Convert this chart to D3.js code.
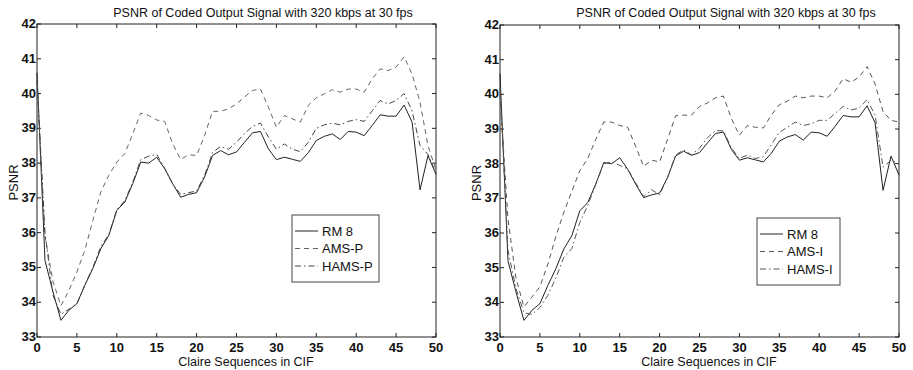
<!DOCTYPE html>
<html>
<head>
<meta charset="utf-8">
<script src="https://cdn.jsdelivr.net/npm/d3@7"></script>
<style>
  html, body { margin: 0; padding: 0; background: #fff; }
  svg { display: block; }
  text { font-family: "Liberation Sans", Arial, sans-serif; fill: #111; }
</style>
</head>
<body>
<svg id="chart" width="913" height="370"></svg>
<script>
// frame index along the sequence
const frames = d3.range(0, 51);
const xTicks = [0, 5, 10, 15, 20, 25, 30, 35, 40, 45, 50];
const yTicks = [33, 34, 35, 36, 37, 38, 39, 40, 41, 42];

const titleText = "PSNR of Coded Output Signal with 320 kbps at 30 fps";
const xLabel = "Claire Sequences in CIF";
const yLabel = "PSNR";

// PSNR values
const rm8 = [40.6, 35.2, 34.3, 33.48, 33.77, 33.96, 34.49, 34.97, 35.54, 35.92,
  36.64, 36.88, 37.41, 38.03, 38.0, 38.17, 37.84, 37.41, 37.02, 37.1,
  37.15, 37.6, 38.22, 38.36, 38.24, 38.32, 38.6, 38.87, 38.91, 38.41,
  38.1, 38.17, 38.11, 38.05, 38.3, 38.65, 38.77, 38.84, 38.68, 38.91,
  38.89, 38.79, 39.08, 39.39, 39.35, 39.35, 39.67, 39.18, 37.23, 38.22, 37.67];

const amsP = [40.3, 35.9, 34.6, 33.9, 34.34, 34.87, 35.5, 36.35, 37.17, 37.65,
  38.03, 38.27, 38.84, 39.44, 39.37, 39.24, 39.2, 38.56, 38.1, 38.24,
  38.22, 38.79, 39.49, 39.49, 39.56, 39.7, 39.9, 40.09, 40.13, 39.61,
  39.03, 39.37, 39.27, 39.18, 39.66, 39.88, 39.99, 40.11, 40.04, 40.13,
  40.13, 40.04, 40.42, 40.71, 40.66, 40.76, 41.06, 40.56, 39.75, 38.5, 37.8];

const hamsP = [40.4, 36.0, 34.2, 33.65, 33.8, 33.95, 34.5, 35.0, 35.6, 35.95,
  36.66, 36.92, 37.45, 38.1, 38.2, 38.25, 37.85, 37.4, 37.1, 37.15,
  37.2, 37.65, 38.3, 38.48, 38.4, 38.6, 38.85, 39.05, 39.15, 38.75,
  38.4, 38.55, 38.4, 38.33, 38.6, 39.0, 39.1, 39.15, 39.1, 39.2,
  39.25, 39.2, 39.5, 39.8, 39.7, 39.8, 40.0, 39.5, 38.5, 38.25, 37.7];

const amsI = [40.0, 36.4, 34.7, 33.87, 34.15, 34.45, 35.1, 35.9, 36.6, 37.2,
  37.8, 38.15, 38.7, 39.2, 39.2, 39.1, 39.05, 38.5, 37.92, 38.1,
  38.05, 38.7, 39.38, 39.4, 39.4, 39.65, 39.75, 39.9, 39.95, 39.3,
  38.82, 39.1, 39.05, 39.03, 39.4, 39.7, 39.8, 39.95, 39.9, 39.95,
  39.95, 39.9, 40.1, 40.45, 40.35, 40.5, 40.8, 40.3, 39.5, 39.25, 39.2];

const hamsI = [40.2, 35.5, 34.4, 33.7, 33.65, 33.85, 34.2, 34.7, 35.3, 35.55,
  36.3, 36.8, 37.4, 38.0, 38.05, 37.95, 37.85, 37.45, 37.05, 37.25,
  37.1, 37.6, 38.25, 38.4, 38.25, 38.45, 38.75, 38.95, 38.95, 38.45,
  38.15, 38.25, 38.15, 38.2, 38.55, 38.9, 39.05, 39.2, 39.1, 39.15,
  39.25, 39.25, 39.45, 39.65, 39.55, 39.6, 39.85, 39.4, 37.9, 38.1, 38.0];

const svg = d3.select("#chart");

function panel(opt) {
  const x = d3.scaleLinear().domain([0, 50]).range([opt.left, opt.right]);
  const y = d3.scaleLinear().domain([33, 42]).range([opt.bottom, opt.top]);
  const g = svg.append("g");

  // plot box
  g.append("rect")
    .attr("x", opt.left).attr("y", opt.top)
    .attr("width", opt.right - opt.left).attr("height", opt.bottom - opt.top)
    .attr("fill", "none").attr("stroke", "#222").attr("stroke-width", 1);

  // inward ticks on all four sides, matlab style
  const tl = 4;
  g.append("g").selectAll("line").data(xTicks).join("line")
    .attr("x1", d => x(d)).attr("x2", d => x(d))
    .attr("y1", opt.bottom).attr("y2", opt.bottom - tl)
    .attr("stroke", "#222");
  g.append("g").selectAll("line").data(xTicks).join("line")
    .attr("x1", d => x(d)).attr("x2", d => x(d))
    .attr("y1", opt.top).attr("y2", opt.top + tl)
    .attr("stroke", "#222");
  g.append("g").selectAll("line").data(yTicks).join("line")
    .attr("x1", opt.left).attr("x2", opt.left + tl)
    .attr("y1", d => y(d)).attr("y2", d => y(d))
    .attr("stroke", "#222");
  g.append("g").selectAll("line").data(yTicks).join("line")
    .attr("x1", opt.right).attr("x2", opt.right - tl)
    .attr("y1", d => y(d)).attr("y2", d => y(d))
    .attr("stroke", "#222");

  // tick labels
  g.append("g").selectAll("text").data(xTicks).join("text")
    .attr("x", d => x(d)).attr("y", opt.bottom + 15)
    .attr("text-anchor", "middle")
    .attr("font-size", 13).attr("font-weight", "bold")
    .text(d => d);
  g.append("g").selectAll("text").data(yTicks).join("text")
    .attr("x", opt.left - 1).attr("y", d => y(d) + 4)
    .attr("text-anchor", "end")
    .attr("font-size", 13).attr("font-weight", "bold")
    .text(d => d);

  // titles
  g.append("text")
    .attr("x", opt.titleX).attr("y", 17)
    .attr("text-anchor", "middle").attr("font-size", 12.5)
    .text(titleText);
  g.append("text")
    .attr("x", opt.xLabelX).attr("y", opt.bottom + 29)
    .attr("text-anchor", "middle").attr("font-size", 12.5)
    .text(xLabel);
  g.append("text")
    .attr("transform", `translate(${opt.yLabelX},${(opt.top + opt.bottom) / 2 + 2}) rotate(-90)`)
    .attr("text-anchor", "middle").attr("font-size", 13)
    .text(yLabel);

  // series
  const line = d3.line().x((d, i) => x(frames[i])).y(d => y(d));
  opt.series.forEach(s => {
    g.append("path")
      .datum(s.values)
      .attr("d", line)
      .attr("fill", "none")
      .attr("stroke", s.color)
      .attr("stroke-width", 1)
      .attr("stroke-dasharray", s.dash);
  });

  // legend
  const lg = g.append("g").attr("transform", `translate(${opt.legend[0]},${opt.legend[1]})`);
  lg.append("rect")
    .attr("width", opt.legend[2]).attr("height", 67)
    .attr("fill", "#fff").attr("stroke", "#444").attr("stroke-width", 1);
  opt.series.forEach((s, i) => {
    const ly = 16 + i * 17.5;
    lg.append("line")
      .attr("x1", 3).attr("x2", 26).attr("y1", ly).attr("y2", ly)
      .attr("stroke", s.color).attr("stroke-dasharray", s.dash);
    lg.append("text")
      .attr("x", 30).attr("y", ly + 4.5)
      .attr("font-size", 13)
      .text(s.name);
  });
}

panel({
  left: 37, right: 436, top: 24, bottom: 337,
  titleX: 263, xLabelX: 246, yLabelX: 18,
  legend: [292, 215, 87],
  series: [
    { name: "RM 8", values: rm8, color: "#222", dash: null },
    { name: "AMS-P", values: amsP, color: "#666", dash: "5,4" },
    { name: "HAMS-P", values: hamsP, color: "#444", dash: "6,3,1.5,3" }
  ]
});

panel({
  left: 500, right: 899, top: 25, bottom: 337,
  titleX: 726, xLabelX: 709, yLabelX: 481,
  legend: [757, 218, 83],
  series: [
    { name: "RM 8", values: rm8, color: "#222", dash: null },
    { name: "AMS-I", values: amsI, color: "#555", dash: "5,4" },
    { name: "HAMS-I", values: hamsI, color: "#555", dash: "6,3,1.5,3" }
  ]
});
</script>
</body>
</html>
